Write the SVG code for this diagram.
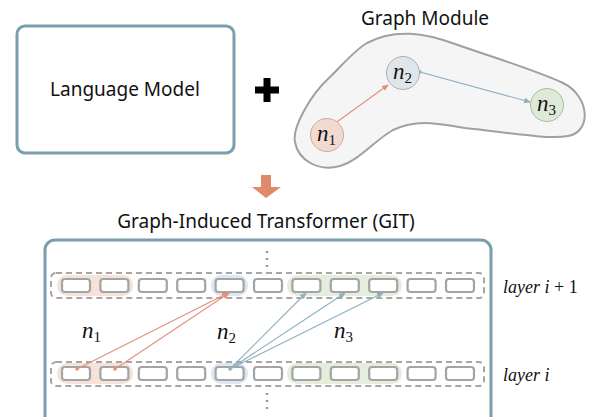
<svg xmlns="http://www.w3.org/2000/svg" width="589" height="417" viewBox="0 0 589 417">
<defs>
<marker id="ao" markerWidth="8" markerHeight="8" refX="6" refY="3" orient="auto" markerUnits="userSpaceOnUse"><path d="M0,0 L7,3 L0,6 Z" fill="#e5917a"/></marker>
<marker id="ab" markerWidth="8" markerHeight="8" refX="6" refY="3" orient="auto" markerUnits="userSpaceOnUse"><path d="M0,0 L7,3 L0,6 Z" fill="#8fb0c0"/></marker>
</defs>
<style>
.title{font-family:"Noto Sans","DejaVu Sans",sans-serif;font-size:19px;fill:#111;text-anchor:middle}
.box{fill:#fff;stroke:#7b9eac;stroke-width:3}
.math{font-family:"Liberation Serif","DejaVu Serif",serif;font-style:italic;fill:#111}
.up{font-style:normal}
.cell{stroke:#a4a4a4;stroke-width:2.2;fill:#fff}
.row{fill:none;stroke:#a6a6a6;stroke-width:2;stroke-dasharray:6 4}
.eo{stroke:#e5917a;stroke-width:1.2;fill:none}
.eb{stroke:#8fb0c0;stroke-width:1.2;fill:none}
.dots{stroke:#999;stroke-width:2.5;stroke-dasharray:2 5}
</style>
<rect width="589" height="417" fill="#fff"/>

<g id="language-model">
<rect class="box" x="17" y="26" width="217" height="127" rx="8"/>
<text class="title" x="125" y="96">Language Model</text>
</g>

<g id="plus">
<rect x="255" y="86.5" width="24" height="7" fill="#000"/>
<rect x="263.5" y="78" width="7" height="24" fill="#000"/>
</g>

<g id="graph-module">
<text class="title" x="425" y="25">Graph Module</text>
<path d="M367 43 C395 28 425 33 455 44 C495 58 535 70 563 83 C590 96 592 132 568 136 C548 140 505 132 465 128 C440 124 418 118 393 130 C375 140 360 160 340 166 C318 172 298 160 295 142 C292 128 310 95 330 77 C345 62 355 50 367 43 Z" fill="#f5f5f5" stroke="#a0a0a0" stroke-width="2"/>
</g>

<g id="graph-edges">
<circle cx="334" cy="124" r="1.8" fill="#e5917a"/>
<line class="eo" x1="334" y1="124" x2="388" y2="85" marker-end="url(#ao)"/>
<circle cx="420" cy="72" r="1.8" fill="#8fb0c0"/>
<line class="eb" x1="420" y1="72" x2="530" y2="102" marker-end="url(#ab)"/>
</g>

<g id="node-n1">
<circle cx="327" cy="135" r="16.5" fill="#f2dad1" stroke="#c9ada2" stroke-width="1"/>
<text class="math" x="317" y="141" font-size="23">n<tspan font-size="15" font-style="normal" dy="4">1</tspan></text>
</g>
<g id="node-n2">
<circle cx="403" cy="73" r="16.5" fill="#dfe5e9" stroke="#a9b1b6" stroke-width="1"/>
<text class="math" x="393" y="79" font-size="23">n<tspan font-size="15" font-style="normal" dy="4">2</tspan></text>
</g>
<g id="node-n3">
<circle cx="547" cy="105" r="16.5" fill="#deead8" stroke="#abbba3" stroke-width="1"/>
<text class="math" x="537" y="111" font-size="23">n<tspan font-size="15" font-style="normal" dy="4">3</tspan></text>
</g>

<g id="down-arrow">
<path d="M261 175 H271 V187 H281 L266 198 L252 187 H261 Z" fill="#e08a6c"/>
</g>

<g id="git">
<text class="title" x="266" y="228">Graph-Induced Transformer (GIT)</text>
<rect class="box" x="45" y="240" width="446" height="200" rx="10"/>
<line class="dots" x1="267" y1="251" x2="267" y2="268"/>
<line class="dots" x1="267" y1="393" x2="267" y2="410"/>
</g>

<g id="layer-top">
<rect x="57" y="275" width="76" height="21" rx="10" fill="#f7e2da"/>
<rect x="211" y="275" width="37" height="21" rx="10" fill="#dce8f3"/>
<rect x="287" y="275" width="115" height="21" rx="10" fill="#e5eedd"/>
<rect class="row" x="51" y="273" width="433" height="25" rx="5"/>
<rect class="cell" x="62" y="279" width="28" height="13" rx="3" fill="#f2d5ca"/>
<rect class="cell" x="100.4" y="279" width="28" height="13" rx="3" fill="#f2d5ca"/>
<rect class="cell" x="138.8" y="279" width="28" height="13" rx="3"/>
<rect class="cell" x="177.2" y="279" width="28" height="13" rx="3"/>
<rect class="cell" x="215.6" y="279" width="28" height="13" rx="3" fill="#c9d9e8"/>
<rect class="cell" x="254" y="279" width="28" height="13" rx="3"/>
<rect class="cell" x="292.4" y="279" width="28" height="13" rx="3" fill="#d9e6d0"/>
<rect class="cell" x="330.8" y="279" width="28" height="13" rx="3" fill="#d9e6d0"/>
<rect class="cell" x="369.2" y="279" width="28" height="13" rx="3" fill="#d9e6d0"/>
<rect class="cell" x="407.6" y="279" width="28" height="13" rx="3"/>
<rect class="cell" x="446" y="279" width="28" height="13" rx="3"/>
<text class="math" x="503" y="293" font-size="18">layer i <tspan class="up">+ 1</tspan></text>
</g>

<g id="layer-bottom">
<rect x="57" y="363" width="76" height="21" rx="10" fill="#f7e2da"/>
<rect x="211" y="363" width="37" height="21" rx="10" fill="#dce8f3"/>
<rect x="287" y="363" width="115" height="21" rx="10" fill="#e5eedd"/>
<rect class="row" x="51" y="362" width="433" height="24" rx="5"/>
<rect class="cell" x="62" y="367" width="28" height="13" rx="3" fill="#f2d5ca"/>
<rect class="cell" x="100.4" y="367" width="28" height="13" rx="3" fill="#f2d5ca"/>
<rect class="cell" x="138.8" y="367" width="28" height="13" rx="3"/>
<rect class="cell" x="177.2" y="367" width="28" height="13" rx="3"/>
<rect class="cell" x="215.6" y="367" width="28" height="13" rx="3" fill="#c9d9e8"/>
<rect class="cell" x="254" y="367" width="28" height="13" rx="3"/>
<rect class="cell" x="292.4" y="367" width="28" height="13" rx="3" fill="#d9e6d0"/>
<rect class="cell" x="330.8" y="367" width="28" height="13" rx="3" fill="#d9e6d0"/>
<rect class="cell" x="369.2" y="367" width="28" height="13" rx="3" fill="#d9e6d0"/>
<rect class="cell" x="407.6" y="367" width="28" height="13" rx="3"/>
<rect class="cell" x="446" y="367" width="28" height="13" rx="3"/>
<text class="math" x="503" y="381" font-size="18">layer i</text>
</g>

<g id="attention-edges">
<circle cx="77" cy="369" r="1.8" fill="#e5917a"/>
<circle cx="115" cy="369" r="1.8" fill="#e5917a"/>
<line class="eo" x1="77" y1="369" x2="228" y2="293" marker-end="url(#ao)"/>
<line class="eo" x1="115" y1="369" x2="229" y2="293" marker-end="url(#ao)"/>
<circle cx="230" cy="369" r="1.8" fill="#8fb0c0"/>
<line class="eb" x1="230" y1="369" x2="306" y2="293" marker-end="url(#ab)"/>
<line class="eb" x1="230" y1="369" x2="345" y2="293" marker-end="url(#ab)"/>
<line class="eb" x1="230" y1="369" x2="383" y2="293" marker-end="url(#ab)"/>
</g>

<g id="labels">
<text class="math" x="82" y="338" font-size="23">n<tspan font-size="15" font-style="normal" dy="4">1</tspan></text>
<text class="math" x="217" y="339" font-size="23">n<tspan font-size="15" font-style="normal" dy="4">2</tspan></text>
<text class="math" x="334" y="338" font-size="23">n<tspan font-size="15" font-style="normal" dy="4">3</tspan></text>
</g>
</svg>
